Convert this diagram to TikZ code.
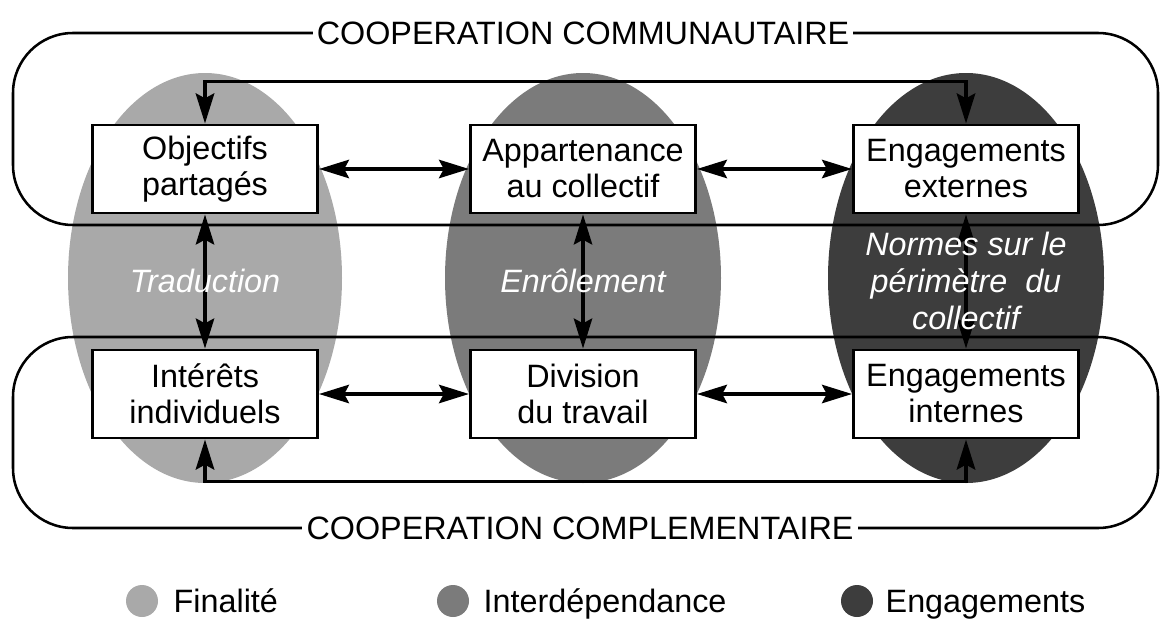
\documentclass[tikz,border=0pt]{standalone}
\usepackage{fontspec}
\setmainfont{Liberation Sans}
\usetikzlibrary{arrows.meta}
\definecolor{finalite}{HTML}{A9A9A9}
\definecolor{interdep}{HTML}{7B7B7B}
\definecolor{engag}{HTML}{3D3D3D}
\begin{document}
\begin{tikzpicture}[x=0.025cm,y=-0.025cm]
      % Define styles for nodes
      \tikzstyle{bloc} = [draw, rectangle, fill=white, line width=2.1pt,
      minimum width=5.625cm, minimum height=2.2cm, align=center,
      font=\fontsize{23}{25.6}\selectfont]
      \tikzstyle{titre} = [fill=white, inner xsep=3pt, inner ysep=1pt,
      font=\fontsize{23}{25.6}\selectfont]
      \tikzstyle{theme} = [text=white, align=center,
      font=\fontsize{23}{26.5}\selectfont\itshape]
      \tikzstyle{legende} = [anchor=base west, inner sep=1pt,
      font=\fontsize{23}{25.6}\selectfont]
      \tikzstyle{lien} = [line width=2.4pt,
      {Stealth[length=0.75cm,width=0.46cm,inset=0.12cm]}-{Stealth[length=0.75cm,width=0.46cm,inset=0.12cm]}]

      \useasboundingbox (0,0) rectangle (1166,619);

      % Grey ellipses
      \fill[finalite] (205,278) ellipse [x radius=137, y radius=205];
      \fill[interdep] (583,278) ellipse [x radius=138, y radius=205];
      \fill[engag] (966,278) ellipse [x radius=138, y radius=205];

      % Rounded frames
      \draw[line width=1.8pt, rounded corners=1.5cm] (13,33) rectangle (1158,225);
      \draw[line width=1.8pt, rounded corners=1.5cm] (13,337) rectangle (1158,528);

      % Boxes at top
      \node[bloc] (obj) at (205,169) {Objectifs\\partagés};
      \node[bloc] (app) at (583,169) {Appartenance\\au collectif};
      \node[bloc] (ext) at (966,169) {Engagements\\externes};

      % Boxes at bottom
      \node[bloc] (int) at (205,394) {Intérêts\\individuels};
      \node[bloc] (div) at (583,394) {Division\\du travail};
      \node[bloc] (inn) at (966,394) {Engagements\\internes};

      % Connections
      \draw[lien] (obj) -- (app);
      \draw[lien] (app) -- (ext);
      \draw[lien] (int) -- (div);
      \draw[lien] (div) -- (inn);

      \draw[lien] (obj) -- (int);
      \draw[lien] (app) -- (div);
      \draw[lien] (ext) -- (inn);

      \draw[lien, line width=2.8pt] (obj.north) -- ++(0,-42) -| (ext.north);
      \draw[lien, line width=2.8pt] (int.south) -- ++(0,42) -| (inn.south);

      % Labels in the ellipses
      \node[theme] (trad) at (205,281) {Traduction};
      \node[theme] (enrol) at (583,281) {Enrôlement};
      \node[theme] (normes) at (966,281) {Normes sur le\\périmètre\ \ du\\collectif};

      % Frame titles
      \node[titre] (comm) at (583,33) {COOPERATION COMMUNAUTAIRE};
      \node[titre] (compl) at (580,528) {COOPERATION COMPLEMENTAIRE};

      % Legend at bottom
      \fill[finalite] (142,601) circle [radius=16];
      \node[legende] (fin) at (172,612) {Finalité};
      \fill[interdep] (453,601) circle [radius=16];
      \node[legende] (inter) at (482,612) {Interdépendance};
      \fill[engag] (857,601) circle [radius=16];
      \node[legende] (eng) at (884,612) {Engagements};
    \end{tikzpicture}
\end{document}
